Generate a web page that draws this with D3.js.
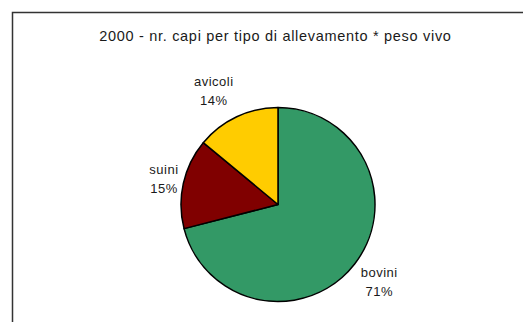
<!DOCTYPE html>
<html>
<head>
<meta charset="utf-8">
<script src="https://cdn.jsdelivr.net/npm/d3@7"></script>
<style>
  html, body { margin: 0; padding: 0; background: #fff; }
  svg { display: block; }
  text { font-family: "Liberation Sans", Arial, sans-serif; fill: #1a1a1a; }
</style>
</head>
<body>
<svg id="chart" width="523" height="322"></svg>
<script>
// Livestock by farm type, share of live weight (2000)
const categories = ["bovini", "suini", "avicoli"];
const shares = [71, 15, 14];
const sliceColors = ["#339966", "#800000", "#FFCC00"];
const title = "2000 - nr. capi per tipo di allevamento * peso vivo";

const W = 523, H = 322;
const cx = 278, cy = 204.5, radius = 97;
const labelRadius = 121;

const svg = d3.select("#chart");

// chart frame (right and bottom edges run past the viewport)
svg.append("rect")
  .attr("x", 12.5).attr("y", 12.5)
  .attr("width", W + 20).attr("height", H + 20)
  .attr("fill", "#fff")
  .attr("stroke", "#333")
  .attr("stroke-width", 1.5);

svg.append("text")
  .attr("x", 275.4).attr("y", 40.5)
  .attr("text-anchor", "middle")
  .style("font-size", "14.5px")
  .style("letter-spacing", "0.7px")
  .text(title);

const data = categories.map((name, i) => ({ name, value: shares[i], color: sliceColors[i] }));

const pie = d3.pie().value(d => d.value).sort(null);
const arcs = pie(data);

const arc = d3.arc().innerRadius(0).outerRadius(radius);
const labelArc = d3.arc().innerRadius(labelRadius).outerRadius(labelRadius);

const g = svg.append("g").attr("transform", `translate(${cx},${cy})`);

g.selectAll("path")
  .data(arcs)
  .join("path")
  .attr("d", arc)
  .attr("fill", d => d.data.color)
  .attr("stroke", "#000")
  .attr("stroke-width", 1.5)
  .attr("stroke-linejoin", "round");

// labels sit on an outer ring, shifted so each text block clears the pie edge;
// the top label is pushed outward to stay clear of the title
const nudge = { avicoli: [-13, -4], suini: [3.8, 0.9], bovini: [5.4, 3] };

const labels = g.selectAll("g.label")
  .data(arcs)
  .join("g")
  .attr("class", "label")
  .attr("transform", d => {
    const [x, y] = labelArc.centroid(d);
    const [dx, dy] = nudge[d.data.name] || [0, 0];
    return `translate(${x + dx},${y + dy})`;
  });

labels.append("text")
  .attr("text-anchor", "middle")
  .attr("x", 0.25)
  .attr("y", -5)
  .style("font-size", "13px")
  .style("letter-spacing", "0.5px")
  .text(d => d.data.name);

labels.append("text")
  .attr("text-anchor", "middle")
  .attr("x", 0.25)
  .attr("y", 14)
  .style("font-size", "13px")
  .style("letter-spacing", "0.5px")
  .text(d => d.data.value + "%");
</script>
</body>
</html>
